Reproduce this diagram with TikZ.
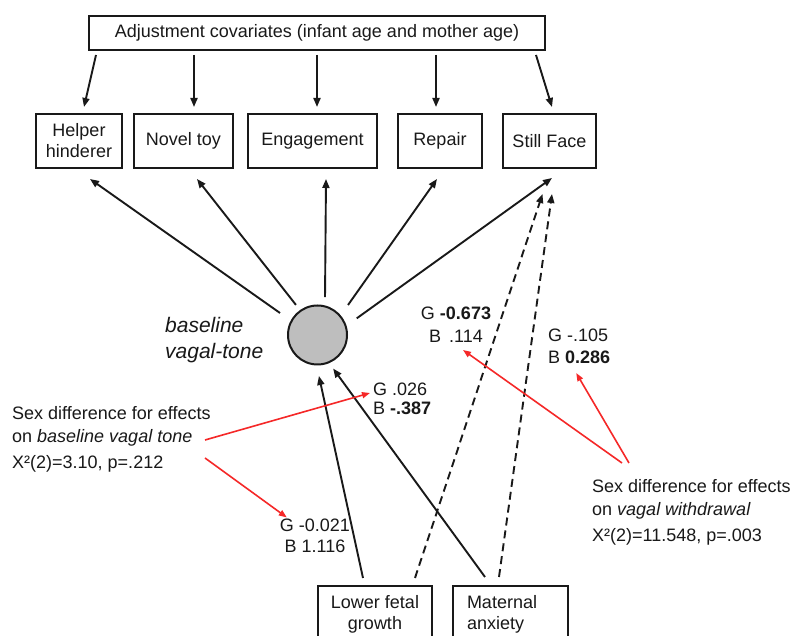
\documentclass[tikz,border=0pt]{standalone}
\usepackage{fontspec}
\setmainfont{Liberation Sans}
\usetikzlibrary{arrows.meta,calc}
\definecolor{redc}{RGB}{245,40,40}
\definecolor{circfill}{RGB}{190,190,190}
\definecolor{ink}{RGB}{25,25,25}
\begin{document}
\begin{tikzpicture}[x=1pt,y=1pt,
  font=\fontsize{18}{21}\selectfont,
  every node/.style={text=ink},
  box/.style={draw=ink, line width=2pt, inner sep=0pt, align=center},
  arr/.style={draw=ink, line width=1.9pt, -{Triangle[length=9pt,width=7pt]}},
  darr/.style={arr, dash pattern=on 8pt off 5pt},
  rarr/.style={line width=1.6pt, draw=redc, -{Triangle[length=8pt,width=6pt]}, fill=redc},
  lab/.style={inner sep=0pt, align=left, anchor=west},
  clab/.style={inner sep=0pt, align=center},
]
\useasboundingbox (0,0) rectangle (798,636);
\fill[white] (0,0) rectangle (798,636);
\clip (0,0) rectangle (798,636);

% boxes
\node[box, minimum width=456, minimum height=34] (top) at (317,603) {Adjustment covariates (infant age and mother age)};
\node[box, minimum width=86, minimum height=54] (helper) at (79,495) {Helper\\hinderer};
\node[box, minimum width=99, minimum height=54] (novel) at (183.5,495) {Novel toy};
\node[box, minimum width=129, minimum height=54] (eng) at (312.5,495) {Engagement};
\node[box, minimum width=84, minimum height=54] (repair) at (440,495) {Repair};
\node[box, minimum width=93, minimum height=54] (still) at (549.5,495) {Still Face};

\node[box, minimum width=114, minimum height=56, anchor=north] (lfg) at (375,51) {Lower fetal\\growth};
\node[box, minimum width=115, minimum height=56, anchor=north, text width=87pt, inner xsep=14pt, align=left] (ma) at (510.5,51) {Maternal\\anxiety};

\node[circle, draw=ink, line width=2pt, fill=circfill, minimum size=59] (vt) at (317.5,301) {};

% labels
\node[lab, font=\fontsize{21}{26}\selectfont\itshape] (bvt) at (165,296) {baseline\\vagal-tone};
\node[lab, font=\fontsize{18}{19}\selectfont] (g026) at (373,237.5) {G .026\\B \textbf{-.387}};
\node[clab, font=\fontsize{18}{23}\selectfont] (g673) at (456,311.5) {G \textbf{-0.673}\\B\hspace{8pt}.114};
\node[lab, font=\fontsize{18}{22}\selectfont] (g105) at (548,290) {G -.105\\B \textbf{0.286}};
\node[clab, font=\fontsize{18}{21}\selectfont] (g021) at (315,100.5) {G -0.021\\B 1.116};

\node[lab, font=\fontsize{18}{23}\selectfont] (lnote) at (12,197) {Sex difference for effects\\on \textit{baseline vagal tone}\\[3pt]X²(2)=3.10, p=.212};
\node[lab, font=\fontsize{18}{23}\selectfont] (rnote) at (592,123.5) {Sex difference for effects\\on \textit{vagal withdrawal}\\[3pt]X²(2)=11.548, p=.003};

% covariate arrows
\draw[arr] ([shift={(-221,-4)}]top.south) -- ([shift={(5,6)}]helper.north);
\draw[arr] ([shift={(-123,-4)}]top.south) -- ([shift={(10.5,6)}]novel.north);
\draw[arr] ([shift={(0,-4)}]top.south) -- ([shift={(4.5,6)}]eng.north);
\draw[arr] ([shift={(119,-4)}]top.south) -- ([shift={(-4,6)}]repair.north);
\draw[arr] ([shift={(219,-4)}]top.south) -- ([shift={(2.5,6)}]still.north);

% vagal tone arrows
\draw[arr] ($(vt)+(149.6:43.5)$) -- ([shift={(11,-10)}]helper.south);
\draw[arr] ($(vt)+(125.6:37)$) -- ([shift={(13.5,-10)}]novel.south);
\draw[arr] ($(vt)+(78.8:38.7)$) -- ([shift={(13.5,-10)}]eng.south);
\draw[arr] ($(vt)+(44.5:42.8)$) -- ([shift={(-3,-10)}]repair.south);
\draw[arr] ($(vt)+(23:42.6)$) -- ([shift={(2.5,-9)}]still.south);

% predictors
\draw[arr] ([shift={(-12,7)}]lfg.north) -- ($(vt)+(-88:41)$);
\draw[arr] ([shift={(-25.5,8)}]ma.north) -- ($(vt)+(-65:37)$);
\draw[darr] ([shift={(40,7)}]lfg.north) -- ([shift={(-7,-25)}]still.south);
\draw[darr] ([shift={(-11.5,8)}]ma.north) -- ([shift={(2.5,-25)}]still.south);

% red arrows
\coordinate (r1s) at (205,196);
\coordinate (r2s) at (205,178);
\coordinate (r3s) at (622,173);
\coordinate (r4s) at (629,173);
\draw[rarr] (r1s) -- ([shift={(-3,5.5)}]g026.west);
\draw[rarr] (r2s) -- ([shift={(7,1)}]g021.north west);
\draw[rarr] (r3s) -- ([shift={(7,-7.5)}]g673.south);
\draw[rarr] (r4s) -- ([shift={(-3,-9.5)}]g105.south);
\end{tikzpicture}
\end{document}
